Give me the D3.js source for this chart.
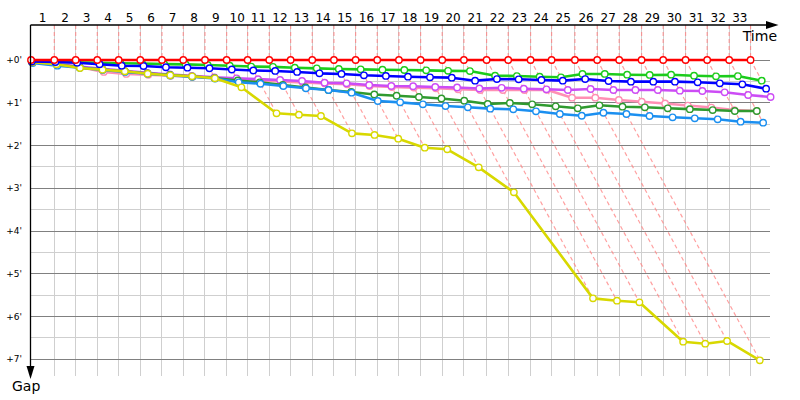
<!DOCTYPE html>
<html>
<head>
<meta charset="utf-8">
<script src="https://cdn.jsdelivr.net/npm/d3@7"></script>
<style>
body { margin: 0; background: white; }
text { font-family: "DejaVu Sans", Verdana, sans-serif; }
</style>
</head>
<body>
<div class="canvas"></div>
<script>
var width = 800;
var height = 400;

// leader lap times in seconds, laps 1..33
var lapTimes = [60.4, 55.4, 56.0, 55.4, 56.0, 56.2, 55.2, 56.2, 56.2, 54.4,
    56.0, 55.4, 56.0, 56.2, 56.2, 56.0, 56.2, 56.2, 56.0, 56.2,
    58.8, 56.0, 58.0, 54.4, 60.4, 57.8, 57.0, 58.0, 56.0, 58.0,
    56.0, 57.0, 55.4];

// gap to the leader (s) at each lap, starting at lap 0
var gapsRed = [0, 0, 0, 0, 0, 0, 0, 0, 0, 0, 0, 0, 0, 0, 0, 0, 0, 0, 0, 0,
    0, 0, 0, 0, 0, 0, 0, 0, 0, 0, 0, 0, 0, 0];
var gapsGreen = [1.5, 2.5, 3.2, 3.8, 4.6, 5.0, 5.8, 6.2, 7.0, 8.0, 9.2, 9.6, 10.8, 11.7, 12.6, 13.1, 13.6,
    14.0, 14.5, 15.2, 15.5, 22.0, 22.5, 23.4, 24.3, 19.6, 19.6, 20.6, 21.0, 20.6, 22.0, 22.9, 22.5, 29.0];
var gapsBlue = [2.1, 2.8, 3.8, 5.9, 8.0, 8.4, 10.2, 10.8, 11.6, 13.3, 14.7, 15.4, 16.8, 18.7, 19.6, 21.5, 22.4,
    23.4, 24.3, 24.8, 29.0, 26.7, 27.1, 28.1, 29.0, 26.7, 29.5, 30.4, 30.4, 30.4, 31.3, 32.7, 34.1, 40.3];
var gapsViolet = [2.8, 5.3, 9.1, 12.3, 15.2, 18.0, 20.3, 22.2, 24.3, 25.7, 26.9, 28.1, 29.5, 31.9, 32.7, 35.1, 36.5,
    36.8, 37.9, 38.6, 40.0, 39.0, 40.3, 41.1, 42.1, 40.7, 42.1, 42.1, 42.1, 43.1, 43.5, 45.3, 49.1, 51.9];
var gapsPink = [2.8, 5.6, 9.8, 16.8, 19.6, 20.8, 22.2, 23.6, 25.3, 26.7, 28.8, 30.2, 31.6, 33.0, 34.1, 36.5, 37.9,
    38.7, 39.7, 41.1, 42.1, 42.1, 42.1, 41.8, 52.9, 52.9, 56.1, 58.5, 61.0, 63.9, 66.7, 70.2, 71.6];
var gapsDarkGreen = [2.8, 6.3, 10.5, 13.3, 16.1, 18.9, 21.0, 23.2, 25.3, 28.8, 31.3, 35.1, 38.6, 42.1, 44.9, 48.4, 50.2,
    51.9, 54.0, 57.1, 61.7, 60.3, 62.2, 65.0, 67.8, 63.6, 65.5, 66.4, 67.8, 69.0, 70.2, 71.6, 71.6];
var gapsLightBlue = [4.2, 8.0, 10.9, 14.0, 16.8, 19.4, 21.8, 23.4, 26.0, 31.3, 33.3, 36.5, 39.7, 42.1, 45.9, 57.5, 59.4,
    62.2, 64.6, 66.4, 68.3, 69.2, 72.0, 75.8, 78.2, 74.0, 75.8, 78.6, 80.4, 81.8, 83.2, 86.6, 88.0];
var gapsYellow = [3.2, 6.0, 11.2, 13.6, 15.9, 19.2, 21.5, 22.9, 25.7, 38.3, 74.8, 76.8, 78.6, 102.9, 105.2, 110.4,
    123.1, 125.3, 150.6, 185.7, 334.5, 337.8, 340.0, 395.3, 398.1, 394.3, 421.4];

var gapTicks = [0, 1, 2, 3, 4, 5, 6, 7]; // minutes

// drawing order: bottom first
var series = [
    { color: "#ff8fb4", gaps: gapsPink },
    { color: "#cc4cf5", gaps: gapsViolet },
    { color: "#2f9a2f", gaps: gapsDarkGreen },
    { color: "#1b8ff0", gaps: gapsLightBlue },
    { color: "#d8d800", gaps: gapsYellow },
    { color: "#1ccc1c", gaps: gapsGreen },
    { color: "#0000ff", gaps: gapsBlue },
    { color: "#ff0000", gaps: gapsRed }
];

var leaderTimes = [0].concat(Array.from(d3.cumsum(lapTimes)));

var x = d3.scaleLinear().domain([0, 1915]).range([31, 770]);
var y = d3.scaleLinear().domain([0, 420]).range([60, 359.3]);

var svg = d3.select(".canvas").append("svg")
    .attr("width", width)
    .attr("height", height)
    .style("background", "white");

// grid
var grid = svg.append("g").attr("shape-rendering", "crispEdges");
grid.selectAll("line.v")
    .data(leaderTimes.slice(1))
    .enter().append("line")
    .attr("class", "v")
    .attr("x1", d => x(d)).attr("x2", d => x(d))
    .attr("y1", 25).attr("y2", 376)
    .attr("stroke", "#cfcfcf");
grid.selectAll("line.h")
    .data(d3.range(0, 421, 30))
    .enter().append("line")
    .attr("class", "h")
    .attr("x1", 31).attr("x2", 770)
    .attr("y1", d => y(d)).attr("y2", d => y(d))
    .attr("stroke", d => d % 60 === 0 ? "#808080" : "#cfcfcf");

// lap reference lines (leader crossing -> slowest car on that lap)
var lapLines = leaderTimes.slice(1).map((t, k) => {
    var i = k + 1;
    return { t: t, g: d3.max(series, s => s.gaps[i]) };
});
var dashes = svg.append("g")
    .attr("stroke", "#ff8080")
    .attr("stroke-opacity", 0.75)
    .attr("stroke-width", 1.2)
    .attr("stroke-dasharray", "4,3")
    .attr("fill", "none");
dashes.selectAll("line.up")
    .data(lapLines)
    .enter().append("line")
    .attr("x1", d => x(d.t)).attr("x2", d => x(d.t))
    .attr("y1", 25).attr("y2", y(0));
dashes.selectAll("line.diag")
    .data(lapLines)
    .enter().append("line")
    .attr("x1", d => x(d.t)).attr("y1", y(0))
    .attr("x2", d => x(d.t + d.g)).attr("y2", d => y(d.g));

// series
var line = d3.line()
    .x(d => x(d.t))
    .y(d => y(d.g));

series.forEach(s => {
    var pts = s.gaps.map((g, i) => ({ t: leaderTimes[i] + g, g: g }));
    var g = svg.append("g");
    g.append("path")
        .datum(pts)
        .attr("d", line)
        .attr("fill", "none")
        .attr("stroke", s.color)
        .attr("stroke-width", 2.6)
        .attr("stroke-linejoin", "round");
    g.selectAll("circle")
        .data(pts)
        .enter().append("circle")
        .attr("cx", d => x(d.t))
        .attr("cy", d => y(d.g))
        .attr("r", 3.2)
        .attr("fill", "white")
        .attr("stroke", s.color)
        .attr("stroke-width", 1.4);
});

// axes
var axes = svg.append("g");
axes.append("line")
    .attr("x1", 30.5).attr("x2", 768).attr("y1", 25).attr("y2", 25)
    .attr("stroke", "black").attr("stroke-width", 1.3);
axes.append("path")
    .attr("d", "M766,21L778.5,25L766,29Z")
    .attr("fill", "black");
axes.append("line")
    .attr("x1", 30.5).attr("x2", 30.5).attr("y1", 25).attr("y2", 368)
    .attr("stroke", "black").attr("stroke-width", 1.3);
axes.append("path")
    .attr("d", "M26.5,366L30.5,379L34.5,366Z")
    .attr("fill", "black");

axes.append("text")
    .attr("x", 777).attr("y", 40.5)
    .attr("text-anchor", "end")
    .attr("font-size", 14)
    .text("Time");
axes.append("text")
    .attr("x", 12).attr("y", 391)
    .attr("font-size", 14)
    .text("Gap");

// lap numbers
axes.selectAll("text.lap")
    .data(d3.range(1, leaderTimes.length))
    .enter().append("text")
    .attr("class", "lap")
    .attr("x", i => (x(leaderTimes[i - 1]) + x(leaderTimes[i])) / 2)
    .attr("y", 21.5)
    .attr("text-anchor", "middle")
    .attr("font-size", 12)
    .text(i => i);

// gap labels
axes.selectAll("text.gap")
    .data(gapTicks)
    .enter().append("text")
    .attr("class", "gap")
    .attr("x", 22)
    .attr("y", m => y(m * 60))
    .attr("dy", "0.35em")
    .attr("text-anchor", "end")
    .attr("font-size", 9)
    .text(m => "+" + m + "'");
</script>
</body>
</html>
